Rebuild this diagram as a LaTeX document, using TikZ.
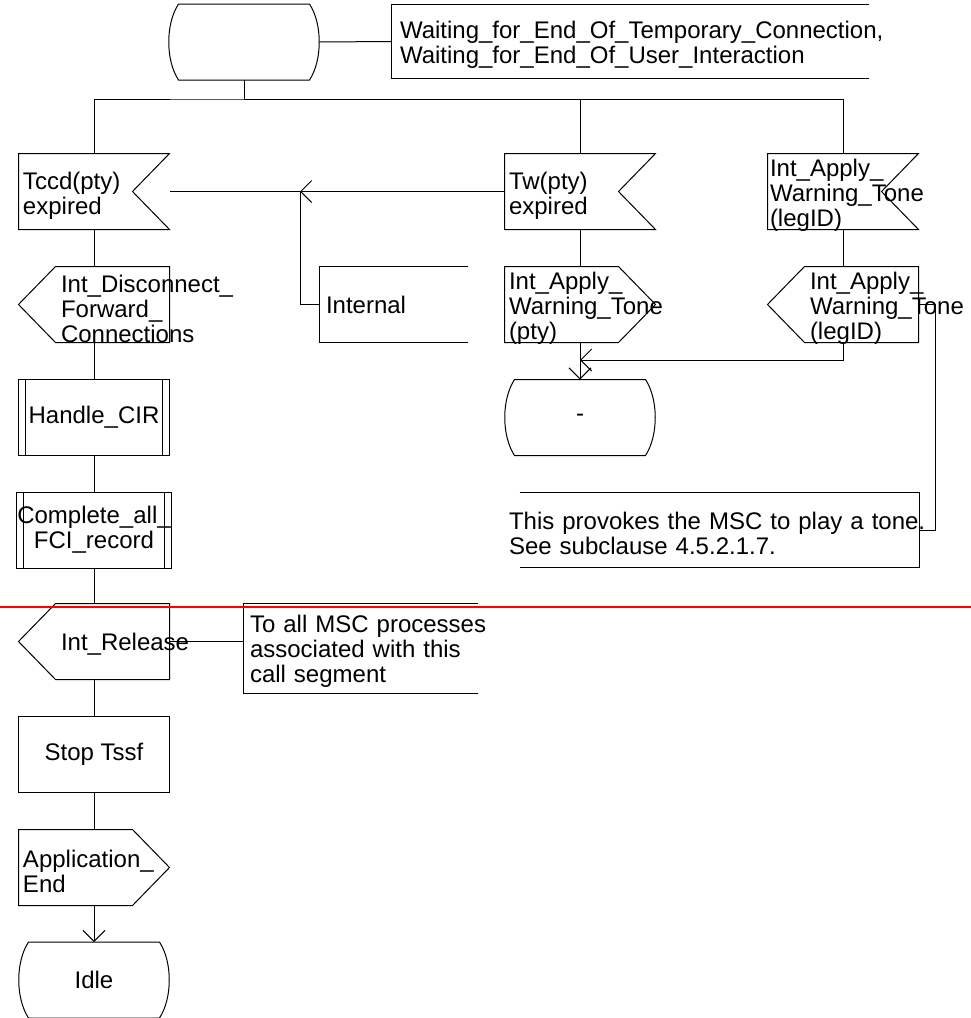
\documentclass[tikz,border=0pt]{standalone}
\usepackage{fontspec}
\setmainfont{Liberation Sans}
\usetikzlibrary{arrows.meta}

\tikzset{
  sym/.style={minimum width=150pt, minimum height=75pt, inner xsep=4pt, inner ysep=0pt, text width=142pt, align=left,
    execute at end node={\par\vspace{-8pt}}},
  midsym/.style={minimum width=150pt, minimum height=75pt, inner sep=0pt, align=center},
  lsym/.style={sym, text width=66pt},
  note/.style={text width=#1, align=left, inner xsep=6pt, inner ysep=0pt, minimum height=75pt,
    execute at end node={\par\vspace{-6pt}}},
  arr/.style={-{Straight Barb[length=11pt,width=22pt]}},
}

\begin{document}
\begin{tikzpicture}[x=1pt, y=-1pt, line width=1pt,
    every node/.style={font=\fontsize{24pt}{25pt}\selectfont}]
\useasboundingbox (0,0) rectangle (971,1018);

% nodes
\node[midsym] (wait) at (244,42) {};
\node[note=460pt, inner xsep=8pt, minimum height=73pt] (cwait) at (630,41.5) {Waiting\_for\_End\_Of\_Temporary\_Connection,\\Waiting\_for\_End\_Of\_User\_Interaction};
\node[sym] (tccd) at (94,191.5) {Tccd(pty)\\expired};
\node[sym] (tw) at (580,191.5) {Tw(pty)\\expired};
\node[sym, inner xsep=2pt, text width=146pt] (legin) at (843,191.5) {Int\_Apply\_\\Warning\_Tone\\(legID)};
\node[lsym] (disc) at (94,304.5) {Int\_Disconnect\_\\Forward\_\\Connections};
\node[note=135pt, execute at end node={}] (internal) at (393.5,304.5) {Internal};
\node[sym] (pty) at (580,304.5) {Int\_Apply\_\\Warning\_Tone\\(pty)};
\node[lsym] (legout) at (843,304.5) {Int\_Apply\_\\Warning\_Tone\\(legID)};
\node[midsym] (handle) at (94,417.5) {Handle\_CIR};
\node[midsym] (dash) at (580,417.5) {-};
\node[midsym] (complete) at (94,530) {Complete\_all\_\\FCI\_record};
\node[note=410pt, inner xsep=0pt, minimum height=74pt] (provokes) at (714,530) {\mbox{This provokes the MSC to play a tone.}\\See subclause 4.5.2.1.7.};
\node[lsym] (release) at (94,641.5) {Int\_Release};
\node[note=221pt, minimum height=89pt] (toall) at (360.5,648.5) {\mbox{To all MSC processes}\\associated with this\\call segment};
\node[midsym] (stop) at (94,754.5) {Stop Tssf};
\node[sym] (appl) at (94,867.5) {Application\_\\End};
\node[midsym] (idle) at (94,980) {Idle};

% state outlines
\foreach \n in {wait,dash,idle}
  \draw ([xshift=10pt]\n.north west) -- ([xshift=-10pt]\n.north east)
    .. controls ([xshift=3pt,yshift=-20pt]\n.north east) and ([xshift=3pt,yshift=20pt]\n.south east) .. ([xshift=-10pt]\n.south east)
    -- ([xshift=10pt]\n.south west)
    .. controls ([xshift=-3pt,yshift=20pt]\n.south west) and ([xshift=-3pt,yshift=-20pt]\n.north west) .. cycle;
% inputs
\foreach \n in {tccd,tw,legin}
  \draw (\n.north west) -- (\n.north east) -- ([xshift=-37pt]\n.east) -- (\n.south east) -- (\n.south west) -- cycle;
% outputs to the right
\foreach \n in {pty,appl}
  \draw (\n.north west) -- ([xshift=-37pt]\n.north east) -- (\n.east) -- ([xshift=-37pt]\n.south east) -- (\n.south west) -- cycle;
% outputs to the left
\foreach \n in {disc,legout,release}
  \draw ([xshift=37pt]\n.north west) -- (\n.north east) -- (\n.south east) -- ([xshift=37pt]\n.south west) -- (\n.west) -- cycle;
% procedure calls
\foreach \n in {handle,complete} {
  \draw (\n.north west) rectangle (\n.south east);
  \draw ([xshift=7pt]\n.north west) -- ([xshift=7pt]\n.south west)
        ([xshift=-7pt]\n.north east) -- ([xshift=-7pt]\n.south east);
}
% task
\draw (stop.north west) rectangle (stop.south east);
% comments
\foreach \n in {cwait,internal,toall}
  \draw (\n.north east) -- (\n.north west) -- (\n.south west) -- (\n.south east);
\draw ([xshift=11pt]provokes.north west) -- (provokes.north east) -- (provokes.south east) -- ([xshift=11pt]provokes.south west);

% edges
\draw (wait.east) -- (cwait.west);
\draw (wait.south) -- ++(0,19) coordinate (fork);
\draw (tccd.north) |- (fork) -| (legin.north);
\draw (fork) -| (tw.north);
\foreach \a/\b in {tccd/disc,disc/handle,handle/complete,complete/release,release/stop,stop/appl,tw/pty,legin/legout}
  \draw (\a.south) -- (\b.north);
\draw[arr] (appl.south) -- (idle.north);
\draw[arr] (pty.south) -- (dash.north);
\coordinate (merge) at (580,360);
\draw[arr] (legout.south) |- (merge);
\coordinate (junc) at (300,191.5);
\draw[arr] (tw.west) -- (junc);
\draw (junc) -- (tccd.east);
\draw (junc) |- (internal.west);
\draw (release.east) -- (release.east -| toall.west);
\draw (legout.east) -- ++(17,0) |- (provokes.east);

% page break
\draw[red, line width=2pt] (0,607) -- (971,607);
\end{tikzpicture}
\end{document}
